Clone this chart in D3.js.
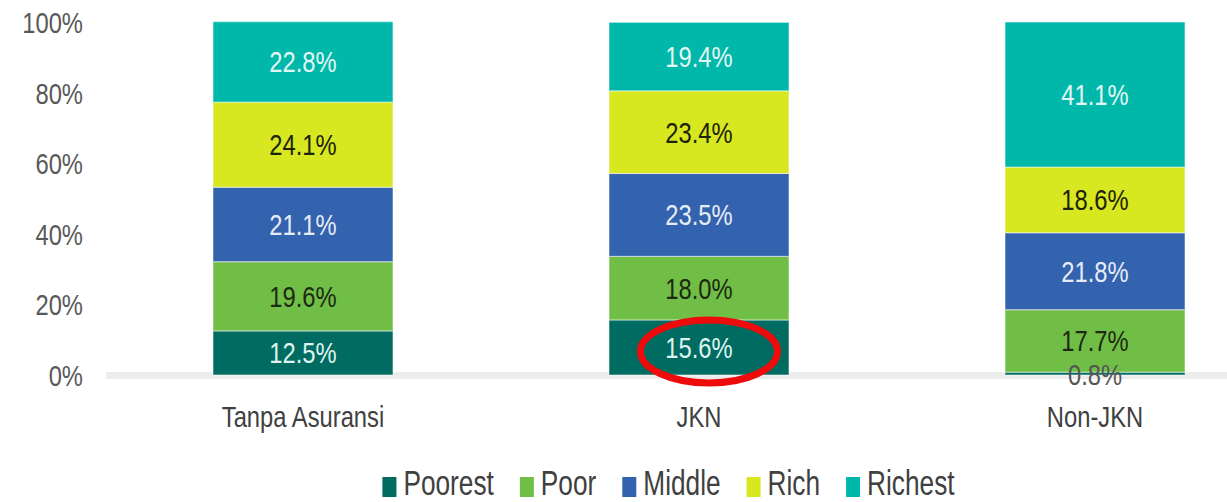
<!DOCTYPE html>
<html>
<head>
<meta charset="utf-8">
<script src="https://cdn.jsdelivr.net/npm/d3@7"></script>
<style>
  html, body { margin: 0; padding: 0; background: #fff; }
  svg { display: block; }
  text { font-family: "Liberation Sans", Arial, sans-serif; }
</style>
</head>
<body>
<svg id="chart" width="1227" height="502"></svg>
<script>
// ---- data ----
const categories = ["Tanpa Asuransi", "JKN", "Non-JKN"];
const seriesNames = ["Poorest", "Poor", "Middle", "Rich", "Richest"];
const poorest = [12.5, 15.6, 0.8];
const poor    = [19.6, 18.0, 17.7];
const middle  = [21.1, 23.5, 21.8];
const rich    = [24.1, 23.4, 18.6];
const richest = [22.8, 19.4, 41.1];
const yTicks = [0, 20, 40, 60, 80, 100];
const highlight = { category: "JKN", series: "Poorest" };

// ---- styles ----
const colors = { Poorest: "#006b60", Poor: "#70be46", Middle: "#3362ae", Rich: "#d8e820", Richest: "#00b8aa" };
const labelColors = { Poorest: "#dff3f0", Poor: "#1d2a12", Middle: "#e6ecf6", Rich: "#1f230a", Richest: "#e2f6f3" };
const NARROW = 0.82;

function narrow(sel, sy) {
  sel.each(function () {
    const t = d3.select(this);
    const x = +t.attr("x") || 0;
    const y = +t.attr("y") || 0;
    const base = t.attr("transform") ? t.attr("transform") + " " : "";
    t.attr("x", 0).attr("y", 0)
      .attr("transform", `${base}translate(${x},${y}) scale(${NARROW},${sy || 1})`);
  });
}

const rows = categories.map((c, i) => ({
  category: c,
  Poorest: poorest[i], Poor: poor[i], Middle: middle[i], Rich: rich[i], Richest: richest[i]
}));

const svg = d3.select("#chart");

const x = d3.scaleBand().domain(categories).range([105, 1293]).paddingInner(0.5455).paddingOuter(0.2727);
const y = d3.scaleLinear().domain([0, 100]).range([375, 22]);

const stacked = d3.stack().keys(seriesNames)(rows);

// baseline axis line
svg.append("line")
  .attr("x1", x.range()[0] + 1).attr("x2", 1227)
  .attr("y1", y(0) + 0.5).attr("y2", y(0) + 0.5)
  .attr("stroke", "#ececec").attr("stroke-width", 7);

// y axis
const yAxis = d3.axisLeft(y).tickValues(yTicks).tickFormat(d => d + "%").tickSize(0).tickPadding(0);
const yg = svg.append("g").attr("transform", "translate(83,0)").call(yAxis);
yg.select(".domain").remove();
yg.selectAll("text")
  .attr("fill", "#595959")
  .style("font-size", "29px")
  .attr("dy", "0.36em");
narrow(yg.selectAll("text"));

// bars
const layer = svg.append("g").selectAll("g").data(stacked).join("g")
  .attr("fill", d => colors[d.key]);

layer.selectAll("rect").data(d => d.map(v => ({ key: d.key, v }))).join("rect")
  .attr("x", d => x(d.v.data.category))
  .attr("width", x.bandwidth())
  .attr("y", d => y(d.v[1]))
  .attr("height", d => y(d.v[0]) - y(d.v[1]))
  .attr("stroke", "#ffffff")
  .attr("stroke-opacity", 0.45)
  .attr("stroke-width", 1.2);

// segment labels
const labelG = svg.append("g");
stacked.forEach(s => {
  s.forEach(v => {
    const val = v[1] - v[0];
    const small = (y(v[0]) - y(v[1])) < 20;
    labelG.append("text")
      .attr("x", x(v.data.category) + x.bandwidth() / 2)
      .attr("y", small ? y(0) : (y(v[0]) + y(v[1])) / 2)
      .attr("dy", "0.36em")
      .attr("text-anchor", "middle")
      .attr("fill", small ? "#555555" : labelColors[s.key])
      .style("font-size", "29px")
      .text(val.toFixed(1) + "%");
  });
});
narrow(labelG.selectAll("text"));

// x axis labels
const xAxis = d3.axisBottom(x).tickSize(0).tickPadding(0);
const xg = svg.append("g").attr("transform", "translate(0,427)").call(xAxis);
xg.select(".domain").remove();
xg.selectAll("text")
  .attr("fill", "#404040")
  .attr("dy", "0")
  .style("font-size", "29px");
narrow(xg.selectAll("text"));

// highlight ellipse
const hs = stacked.find(s => s.key === highlight.series);
const hv = hs.find(v => v.data.category === highlight.category);
svg.append("ellipse")
  .attr("cx", x(highlight.category) + x.bandwidth() / 2 + 10)
  .attr("cy", (y(hv[0]) + y(hv[1])) / 2 + 4)
  .attr("rx", 68.5).attr("ry", 31.5)
  .attr("fill", "none")
  .attr("stroke", "#ee0b0b")
  .attr("stroke-width", 7);

// legend
const legend = svg.append("g").attr("transform", "translate(0,495)");
const items = [];
seriesNames.forEach(name => {
  const g = legend.append("g");
  g.append("rect").attr("x", 0).attr("y", -18).attr("width", 14).attr("height", 20)
    .attr("fill", colors[name]);
  const t = g.append("text").attr("x", 21).attr("y", 0)
    .attr("fill", "#404040")
    .style("font-size", "32px")
    .text(name);
  const w = 21 + t.node().getComputedTextLength() * NARROW;
  narrow(t, 1.08);
  items.push({ g, w });
});
const gap = 26;
const total = d3.sum(items, d => d.w) + gap * (items.length - 1);
let start = 668.5 - total / 2;
items.forEach(it => {
  it.g.attr("transform", `translate(${start},0)`);
  start += it.w + gap;
});
</script>
</body>
</html>
